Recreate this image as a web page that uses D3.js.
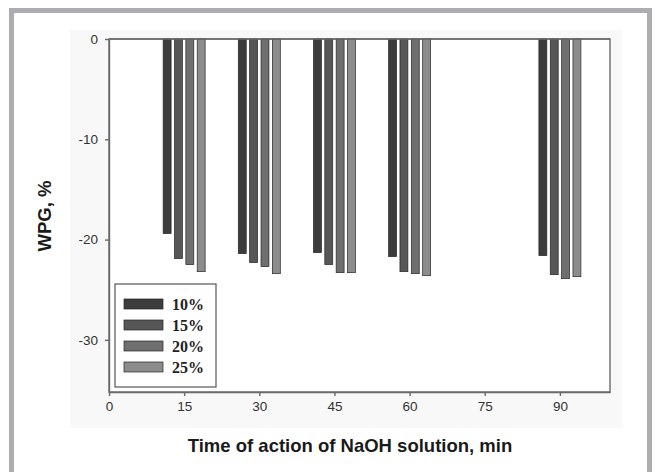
<!DOCTYPE html>
<html>
<head>
<meta charset="utf-8">
<script src="https://cdn.jsdelivr.net/npm/d3@7"></script>
<style>
  body { margin: 0; background: #fff; }
  .tick text { font-family: "Liberation Sans", Arial, sans-serif; font-size: 13.5px; fill: #333; }
  .tick line, .domain { stroke: #6a6a6a; }
</style>
</head>
<body>
<div class="chart"></div>
<script>
const times = [15, 30, 45, 60, 90];
const series = ["10%", "15%", "20%", "25%"];
const wpg10 = [-19.4, -21.4, -21.3, -21.7, -21.6];
const wpg15 = [-21.9, -22.3, -22.5, -23.2, -23.5];
const wpg20 = [-22.5, -22.7, -23.3, -23.4, -23.9];
const wpg25 = [-23.2, -23.4, -23.3, -23.6, -23.7];
const xTicks = [0, 15, 30, 45, 60, 75, 90];
const yTicks = [0, -10, -20, -30];
const colors = ["#3c3c3c", "#575757", "#6f6f6f", "#8c8c8c"];

const width = 656, height = 472;
const plot = {left: 109, right: 610, top: 39, bottom: 392};

const values = [wpg10, wpg15, wpg20, wpg25];
const rows = [];
times.forEach((t, i) => series.forEach((s, j) => rows.push({time: t, series: s, value: values[j][i]})));

const x = d3.scaleLinear().domain([0, 100]).range([plot.left, plot.right]);
const y = d3.scaleLinear().domain([-35.2, 0]).range([plot.bottom, plot.top]);
const inner = d3.scaleBand().domain(series).range([-21, 21]).paddingInner(0.3);
const color = d3.scaleOrdinal().domain(series).range(colors);

const svg = d3.select(".chart").append("svg")
    .attr("width", width)
    .attr("height", height);

// faint backdrop of the scanned figure
svg.append("rect")
    .attr("x", 70).attr("y", 30)
    .attr("width", 552).attr("height", 398)
    .attr("fill", "#f8f8f8");

// outer frame (bottom edge cut off)
svg.append("path")
    .attr("d", "M11.5,472V10.5H649.5V472")
    .attr("fill", "none")
    .attr("stroke", "#adadb1")
    .attr("stroke-width", 5);

// plot box
svg.append("rect")
    .attr("x", plot.left).attr("y", plot.top)
    .attr("width", plot.right - plot.left).attr("height", plot.bottom - plot.top)
    .attr("fill", "#fff")
    .attr("stroke", "#6a6a6a")
    .attr("stroke-width", 1.4);

svg.append("g")
    .attr("transform", "translate(0," + plot.bottom + ")")
    .call(d3.axisBottom(x).tickValues(xTicks).tickSize(4).tickPadding(5).tickSizeOuter(0))
    .call(g => g.selectAll("line, path").attr("stroke-width", 1.4));

svg.append("g")
    .attr("transform", "translate(" + plot.left + ",0)")
    .call(d3.axisLeft(y).tickValues(yTicks).tickSize(4).tickPadding(7).tickSizeOuter(0)
      .tickFormat(d => d === 0 ? "0" : "-" + Math.abs(d)))
    .call(g => g.selectAll("line, path").attr("stroke-width", 1.4));

svg.append("g").selectAll("rect")
    .data(rows)
  .enter().append("rect")
    .attr("x", d => x(d.time) + inner(d.series))
    .attr("y", y(0))
    .attr("width", inner.bandwidth())
    .attr("height", d => y(d.value) - y(0))
    .attr("fill", d => color(d.series))
    .attr("stroke", "#262626")
    .attr("stroke-width", 0.7);

// top edge redrawn over the bars
svg.append("line")
    .attr("x1", plot.left).attr("x2", plot.right)
    .attr("y1", y(0)).attr("y2", y(0))
    .attr("stroke", "#6a6a6a")
    .attr("stroke-width", 1.6);

const legend = svg.append("g").attr("transform", "translate(115,284)");
legend.append("rect")
    .attr("width", 101).attr("height", 103)
    .attr("fill", "#fff")
    .attr("stroke", "#555")
    .attr("stroke-width", 1.2);

const item = legend.selectAll("g.item")
    .data(series)
  .enter().append("g")
    .attr("class", "item")
    .attr("transform", (d, i) => "translate(9," + (15 + i * 21) + ")");

item.append("rect")
    .attr("width", 39).attr("height", 10)
    .attr("fill", d => color(d))
    .attr("stroke", "#262626")
    .attr("stroke-width", 0.7);

item.append("text")
    .attr("x", 48).attr("y", 10.5)
    .attr("font-family", "'Liberation Serif', 'Times New Roman', serif")
    .attr("font-weight", "bold")
    .attr("font-size", 16)
    .attr("fill", "#222")
    .text(d => d);

svg.append("text")
    .attr("x", 350).attr("y", 452)
    .attr("text-anchor", "middle")
    .attr("font-family", "'Liberation Sans', Arial, sans-serif")
    .attr("font-weight", "bold")
    .attr("font-size", 18.5)
    .attr("fill", "#1a1a1a")
    .text("Time of action of NaOH solution, min");

svg.append("text")
    .attr("transform", "translate(51,216) rotate(-90)")
    .attr("text-anchor", "middle")
    .attr("font-family", "'Liberation Sans', Arial, sans-serif")
    .attr("font-weight", "bold")
    .attr("font-size", 18.5)
    .attr("fill", "#1a1a1a")
    .text("WPG, %");
</script>
</body>
</html>
